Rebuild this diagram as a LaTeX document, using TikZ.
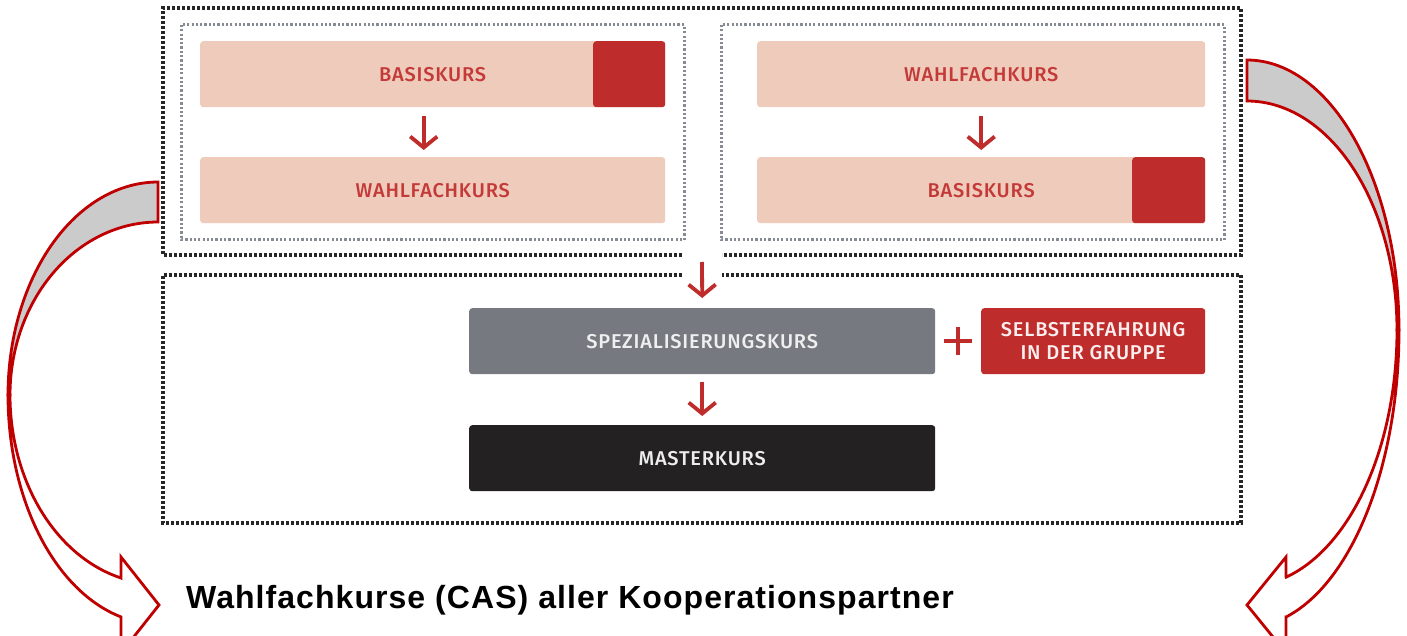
\documentclass[tikz,border=0pt]{standalone}
\usepackage{fontspec}
\setmainfont{Liberation Sans}
\newfontfamily\labfont[LetterSpace=4]{Fira Sans Medium}
\newfontfamily\capfont[LetterSpace=3.3]{Liberation Sans Bold}
\usetikzlibrary{arrows.meta}
\definecolor{pinkc}{HTML}{EECBBB}
\definecolor{redc}{HTML}{BE2D2B}
\definecolor{redtxt}{HTML}{C43A38}
\definecolor{grayc}{HTML}{767980}
\definecolor{darkc}{HTML}{232122}
\definecolor{dotblack}{HTML}{262626}
\definecolor{dotgray}{HTML}{858A93}
\definecolor{linered}{HTML}{C00000}
\definecolor{bandgray}{HTML}{CBCBCB}
\tikzset{
  box/.style={rounded corners=3pt, inner sep=0pt, font=\labfont\fontsize{20}{23}\selectfont},
  pinkbox/.style={box, fill=pinkc, text=redtxt},
  redblock/.style={rounded corners=3pt, fill=redc, inner sep=0pt},
  outerdot/.style={draw=dotblack, line width=3.2pt, dash pattern=on 2.6pt off 2.4pt},
  innerdot/.style={draw=dotgray, line width=3pt, dash pattern=on 2.2pt off 2.1pt},
  arr/.style={draw=redc, line width=3.8pt, -{Straight Barb[length=11pt,width=27pt]}},
  curvearr/.style={draw=linered, line width=2.8pt, line join=miter},
}
\begin{document}
\begin{tikzpicture}[x=1pt, y=-1pt]
\clip (0,0) rectangle (1407,636);
\fill[white] (0,0) rectangle (1407,636);

% dotted frames
\draw[outerdot] (682,255) -- (163,255) -- (163,8) -- (1241,8) -- (1241,255) -- (722,255);
\draw[outerdot] (682,275) -- (163,275) -- (163,523) -- (1241,523) -- (1241,275) -- (722,275);
\draw[innerdot] (181,25) rectangle (684,240);
\draw[innerdot] (721,25) rectangle (1224,240);

% left group
\node[pinkbox, anchor=north west, minimum width=465pt, minimum height=66pt] (b1) at (200,41) {};
\node[redblock, anchor=north east, minimum width=72pt, minimum height=66pt] (b1r) at (b1.north east) {};
\node[box, text=redtxt] (b1t) at (b1.center) {BASISKURS};
\node[pinkbox, anchor=north west, minimum width=465pt, minimum height=66pt] (w1) at (200,157) {WAHLFACHKURS};
\draw[arr] ([xshift=-9pt,yshift=-9pt]b1.south) -- ([xshift=-9pt,yshift=7pt]w1.north);

% right group
\node[pinkbox, anchor=north west, minimum width=448pt, minimum height=66pt] (w2) at (757,41) {WAHLFACHKURS};
\node[pinkbox, anchor=north west, minimum width=448pt, minimum height=66pt] (b2) at (757,157) {};
\node[redblock, anchor=north east, minimum width=73pt, minimum height=66pt] (b2r) at (b2.north east) {};
\node[box, text=redtxt] (b2t) at (b2.center) {BASISKURS};
\draw[arr] ([yshift=-9pt]w2.south) -- ([yshift=7pt]b2.north);

% lower group
\node[box, fill=grayc, text=white!88!grayc, anchor=north west, minimum width=466pt, minimum height=66pt] (sp) at (469,308) {SPEZIALISIERUNGSKURS};
\node[box, fill=redc, text=white!92!redc, anchor=north west, minimum width=224pt, minimum height=66pt, align=center, font=\labfont\fontsize{20}{22.5}\selectfont] (se) at (981,308) {SELBSTERFAHRUNG\\IN DER GRUPPE};
\node[inner sep=0pt, minimum size=27pt] (plus) at (958,341) {};
\draw[redc, line width=3.6pt] (plus.west) -- (plus.east) (plus.north) -- (plus.south);
\node[box, fill=darkc, text=white!92!darkc, anchor=north west, minimum width=466pt, minimum height=66pt] (ms) at (469,425) {MASTERKURS};
\coordinate (gap) at (702,262);
\draw[arr] (gap) -- ([yshift=10pt]sp.north);
\draw[arr] ([yshift=-8pt]sp.south) -- ([yshift=9pt]ms.north);

% caption
\node[anchor=base west, inner sep=0pt, font=\capfont\fontsize{32}{36}\selectfont] (cap) at (186,608) {Wahlfachkurse (CAS) aller Kooperationspartner};

% left curved arrow
\filldraw[curvearr, fill=bandgray]
  plot[domain=270:180, samples=60] ({158+150*cos(\x)},{395+213*sin(\x)})
  -- plot[domain=180:270, samples=60] ({158+148*cos(\x)},{395+173*sin(\x)}) -- cycle;
\filldraw[curvearr, fill=white]
  plot[domain=180:104.3, samples=60] ({158+150*cos(\x)},{395+229*sin(\x)})
  -- (121,617) -- (121,653) -- (159,605) -- (121,557) -- (121,578)
  -- plot[domain=104.5:180, samples=60] ({158+148*cos(\x)},{395+189*sin(\x)}) -- cycle;

% right curved arrow
\filldraw[curvearr, fill=bandgray]
  plot[domain=-90:0, samples=60] ({1247+152*cos(\x)},{330+270*sin(\x)})
  -- plot[domain=0:-90, samples=60] ({1247+150*cos(\x)},{330+229*sin(\x)}) -- cycle;
\filldraw[curvearr, fill=white]
  plot[domain=0:75.1, samples=60] ({1247+152*cos(\x)},{330+297*sin(\x)})
  -- (1286,617) -- (1286,653) -- (1247,605) -- (1286,557) -- (1286,577)
  -- plot[domain=74.9:0, samples=60] ({1247+150*cos(\x)},{330+256*sin(\x)}) -- cycle;
\end{tikzpicture}
\end{document}
